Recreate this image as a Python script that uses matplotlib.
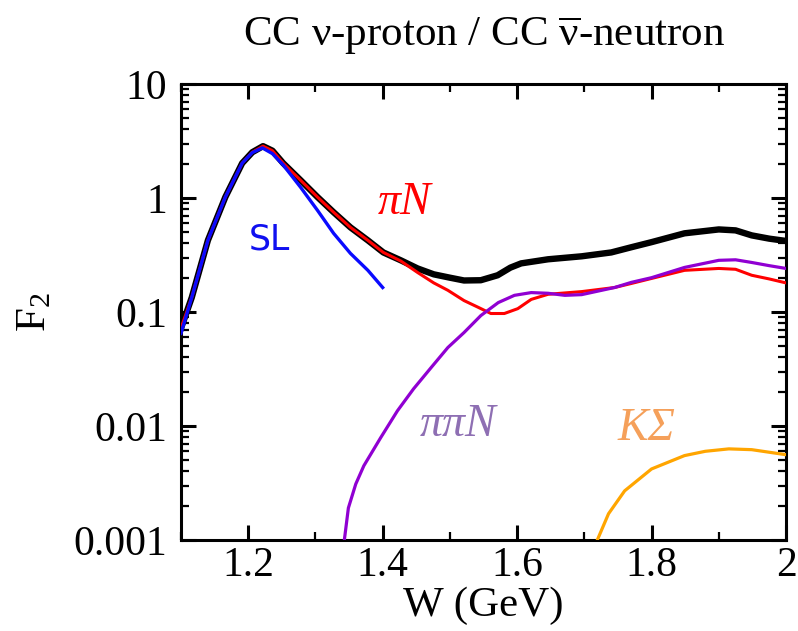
import matplotlib
matplotlib.use("Agg")
import matplotlib.pyplot as plt
from matplotlib.ticker import FixedLocator, FixedFormatter, LogLocator, NullFormatter, MultipleLocator

plt.rcParams["font.family"] = ["Liberation Serif", "DejaVu Serif"]
plt.rcParams["mathtext.fontset"] = "custom"
plt.rcParams["mathtext.rm"] = "Liberation Serif"
plt.rcParams["mathtext.it"] = "Liberation Serif:italic"

# Total structure function
w_total = [1.10, 1.116, 1.140, 1.166, 1.191, 1.206, 1.222, 1.236, 1.252, 1.278, 1.303,
           1.327, 1.352, 1.378, 1.401, 1.427, 1.452, 1.476, 1.50, 1.521, 1.546, 1.571,
           1.59, 1.606, 1.646, 1.696, 1.740, 1.770, 1.80, 1.849, 1.90, 1.925, 1.949,
           1.975, 2.0]
f2_total = [0.072, 0.134, 0.425, 1.02, 2.02, 2.52, 2.85, 2.6, 2.02, 1.43, 1.02,
            0.75, 0.553, 0.425, 0.333, 0.284, 0.241, 0.214, 0.20, 0.189, 0.19, 0.21,
            0.245, 0.267, 0.29, 0.308, 0.333, 0.37, 0.41, 0.49, 0.53, 0.52, 0.47,
            0.44, 0.42]

# Single-pion (pi N) channel
w_piN = [1.10, 1.116, 1.140, 1.166, 1.191, 1.206, 1.222, 1.236, 1.252, 1.278, 1.303,
         1.327, 1.352, 1.378, 1.401, 1.427, 1.452, 1.476, 1.497, 1.521, 1.542, 1.561,
         1.581, 1.601, 1.621, 1.646, 1.696, 1.745, 1.770, 1.80, 1.849, 1.90, 1.925,
         1.949, 1.975, 2.0]
f2_piN = [0.072, 0.134, 0.425, 1.02, 2.02, 2.52, 2.85, 2.6, 2.02, 1.43, 1.02,
          0.75, 0.553, 0.425, 0.333, 0.28, 0.222, 0.18, 0.155, 0.126, 0.11, 0.097,
          0.097, 0.107, 0.129, 0.143, 0.151, 0.164, 0.178, 0.197, 0.232, 0.241, 0.237,
          0.21, 0.195, 0.18]

# Two-pion (pi pi N) channel
w_pipiN = [1.343, 1.349, 1.360, 1.372, 1.397, 1.422, 1.446, 1.472, 1.497, 1.521, 1.546,
           1.572, 1.596, 1.621, 1.646, 1.671, 1.696, 1.745, 1.770, 1.80, 1.849, 1.90,
           1.925, 1.949, 1.975, 2.0]
f2_pipiN = [0.001, 0.00191, 0.0031, 0.00448, 0.00789, 0.0136, 0.0212, 0.0325, 0.0488,
            0.066, 0.093, 0.121, 0.140, 0.148, 0.146, 0.14, 0.142, 0.164, 0.182, 0.20,
            0.246, 0.284, 0.287, 0.272, 0.255, 0.241]

# K Sigma channel
w_KSigma = [1.716, 1.736, 1.760, 1.80, 1.849, 1.88, 1.915, 1.949, 2.0]
f2_KSigma = [0.0009, 0.0017, 0.0027, 0.0042, 0.0055, 0.0060, 0.0063, 0.0062, 0.0056]

# Sato-Lee (SL) model
w_SL = [1.10, 1.116, 1.140, 1.166, 1.191, 1.206, 1.221, 1.236, 1.252, 1.278, 1.303,
        1.327, 1.352, 1.378, 1.40]
f2_SL = [0.065, 0.134, 0.425, 1.02, 2.02, 2.5, 2.75, 2.45, 1.95, 1.24, 0.78,
         0.49, 0.327, 0.232, 0.164]

y_ticks = [0.001, 0.01, 0.1, 1, 10]
y_tick_labels = ["0.001", "0.01", "0.1", "1", "10"]
x_ticks = [1.2, 1.4, 1.6, 1.8, 2.0]
x_tick_labels = ["1.2", "1.4", "1.6", "1.8", "2"]

fig = plt.figure(figsize=(7.98, 6.31), dpi=100)
ax = fig.add_axes([181 / 798, 1 - 540 / 631, 605 / 798, 456 / 631])

ax.plot(w_total, f2_total, color="black", lw=4.6, zorder=2)
ax.plot(w_piN, f2_piN, color="#ff0000", lw=2.2, zorder=3)
ax.plot(w_pipiN, f2_pipiN, color="#9000d2", lw=2.3, zorder=4)
ax.plot(w_KSigma, f2_KSigma, color="#ffa500", lw=2.3, zorder=4)
ax.plot(w_SL, f2_SL, color="#0a0aff", lw=2.4, zorder=5)

ax.set_yscale("log")
ax.set_xlim(1.1, 2.0)
ax.set_ylim(0.001, 10)

ax.yaxis.set_major_locator(FixedLocator(y_ticks))
ax.yaxis.set_major_formatter(FixedFormatter(y_tick_labels))
ax.yaxis.set_minor_locator(LogLocator(base=10, subs=range(2, 10)))
ax.yaxis.set_minor_formatter(NullFormatter())
ax.xaxis.set_major_locator(FixedLocator(x_ticks))
ax.xaxis.set_major_formatter(FixedFormatter(x_tick_labels))
ax.xaxis.set_minor_locator(MultipleLocator(0.1))

for s in ax.spines.values():
    s.set_linewidth(2.2)
ax.tick_params(which="both", direction="in", top=True, right=True, labelsize=30)
ax.tick_params(which="major", length=10.8, width=2.2)
ax.tick_params(which="minor", length=5.8, width=1.6)
ax.tick_params(axis="y", which="major", pad=10)
ax.tick_params(axis="x", which="major", pad=5)

fig.text(484 / 798, 1 - 36 / 631,
         r"CC $\mathrm{\nu}$-proton / CC $\overline{\mathrm{\nu}}$-neutron",
         ha="center", va="center", fontsize=31)
fig.text(483 / 798, 1 - 606 / 631, "W (GeV)", ha="center", va="center", fontsize=31)
fig.text(35 / 798, 1 - 312 / 631, r"F$_\mathregular{2}$", ha="center", va="center",
         fontsize=31, rotation=90)

ax.text(1.231, 0.434, "SL", color="#1010f0", fontsize=25, family="DejaVu Sans",
        ha="center", va="center")
ax.text(1.433, 0.90, "\u03c0N", color="#ff0000", fontsize=33, style="italic",
        ha="center", va="center")
ax.text(1.512, 0.0103, "\u03c0\u03c0N", color="#8e6fb3", fontsize=33, style="italic",
        ha="center", va="center")
ax.text(1.793, 0.00946, "K\u03a3", color="#f5a05a", fontsize=33, style="italic",
        ha="center", va="center")

fig.savefig("out.png", dpi=100)
